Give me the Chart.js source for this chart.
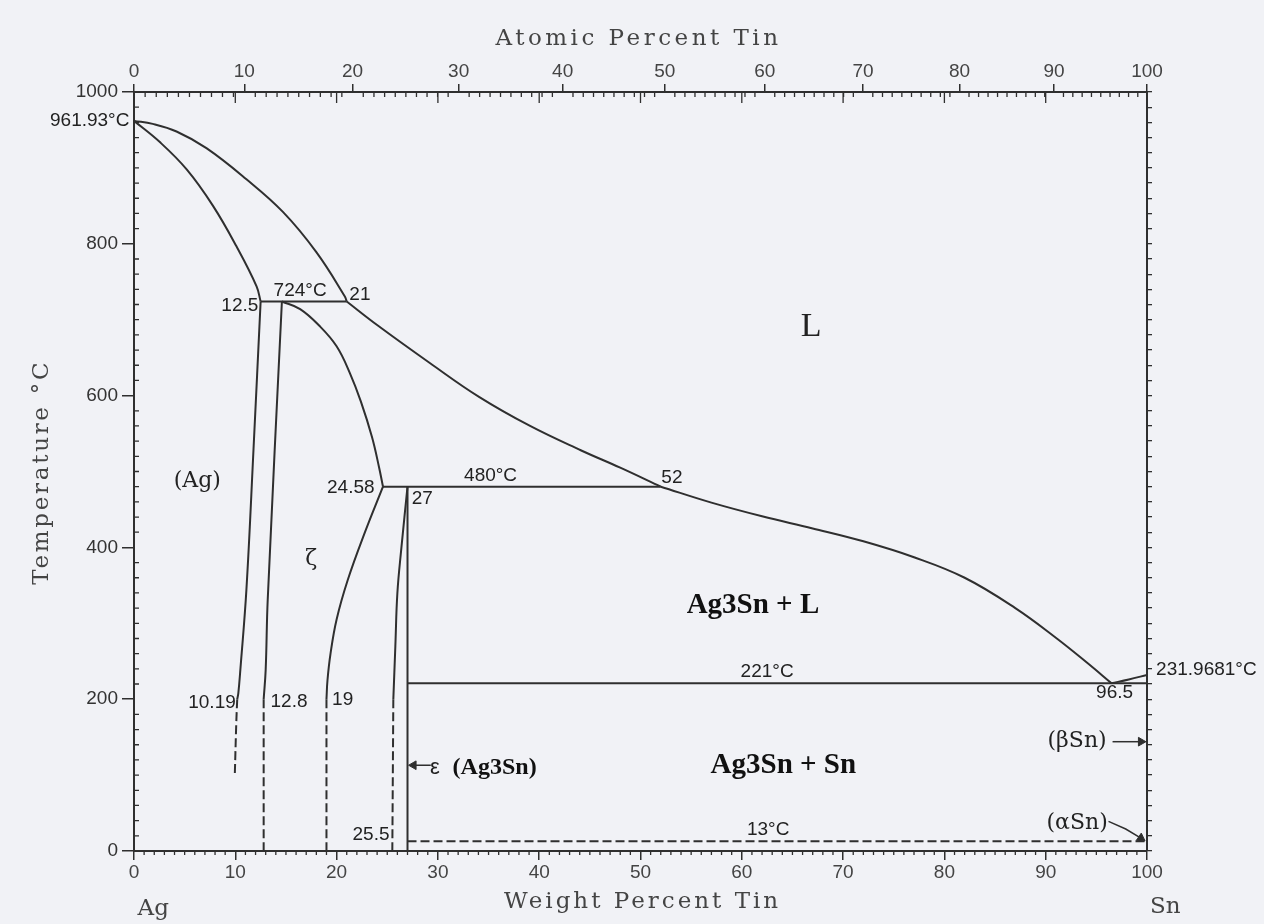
<!DOCTYPE html>
<html>
<head>
    <title>Ag-Sn Phase Diagram</title>
    <script src="https://cdn.jsdelivr.net/npm/chart.js"></script>
    <style>
        html, body {
            margin: 0;
            padding: 0;
            background: #f1f2f6;
        }
        .chart-container {
            width: 1264px;
            height: 924px;
        }
    </style>
</head>
<body>
<div class="chart-container">
    <canvas id="phaseChart"></canvas>
</div>

<script>
    // all points are [weight % Sn, temperature °C]
    const liquidusAg = [[0, 961.93], [1.85, 958], [4.2, 948], [7.15, 926], [11.1, 885], [14.7, 842], [18.0, 789], [20.8, 731], [21, 724]];
    const liquidusMid = [[21, 724], [24.0, 693], [29.2, 643], [34.1, 598], [39.1, 560], [44.1, 528], [48, 505], [52, 480]];
    const liquidusSn = [[52, 480], [57, 459], [62, 441], [67, 425], [72, 408], [77, 387], [82, 360], [87, 320], [91, 281], [94, 249], [96.5, 221]];
    const liquidusBetaSn = [[96.5, 221], [98.2, 226], [100, 231.9681]];

    const solidusAg = [[0, 961.93], [2.55, 934], [5.2, 898], [7.8, 850], [10.1, 797], [12.1, 744], [12.5, 724]];
    const solvusAg = [[12.5, 724], [11.8, 530], [11.1, 345], [10.5, 239], [10.3, 208], [10.19, 200]];
    const solvusAgDash = [[10.19, 200], [10.1, 170], [9.95, 100]];

    const zetaLeft = [[14.6, 724], [13.2, 331], [13.0, 239], [12.8, 200]];
    const zetaLeftDash = [[12.8, 200], [12.8, 0]];
    const zetaTop = [[14.6, 724], [16.4, 714], [18.3, 692], [20.0, 665], [21.3, 630], [22.4, 592], [23.5, 545], [24.2, 505], [24.58, 480]];
    const zetaRight = [[24.58, 480], [22.8, 420], [21.1, 357], [20.0, 305], [19.4, 260], [19.1, 225], [19, 200]];
    const zetaRightDash = [[19, 200], [19, 0]];

    const epsLeft = [[27, 480], [26.4, 400], [26.0, 340], [25.8, 270], [25.6, 200]];
    const epsLeftDash = [[25.6, 200], [25.5, 0]];
    const epsRight = [[27, 480], [27, 0]];

    const iso724 = [[12.5, 724], [21, 724]];
    const iso480 = [[24.58, 480], [52, 480]];
    const iso221 = [[27, 221], [100, 221]];
    const iso13 = [[27, 13], [100, 13]];

    const arrowEps = [[29.3, 113], [27.6, 113]];
    const arrowBeta = [[96.6, 144], [99.4, 144]];
    const arrowAlpha = [[96.2, 39], [97.9, 29], [99.4, 17]];

    const wtTicks = [0, 10, 20, 30, 40, 50, 60, 70, 80, 90, 100];
    const atTicks = [0, 10, 20, 30, 40, 50, 60, 70, 80, 90, 100];
    const tempTicks = [0, 200, 400, 600, 800, 1000];

    const M_AG = 107.8682, M_SN = 118.71;
    function atToWt(a) {
        return 100 * a * M_SN / (a * M_SN + (100 - a) * M_AG);
    }

    const ink = '#2f2f2f';
    const datasets = [];

    function addLine(data, opts) {
        datasets.push(Object.assign({
            data: data.map(p => ({x: p[0], y: p[1]})),
            showLine: true,
            borderColor: ink,
            borderWidth: 2,
            pointRadius: 0,
            pointHoverRadius: 0,
            tension: 0,
            fill: false
        }, opts || {}));
    }

    function addArrow(data, rotation) {
        addLine(data, {
            borderWidth: 1.5,
            clip: false,
            pointStyle: 'triangle',
            pointRadius: c => c.dataIndex === data.length - 1 ? 5 : 0,
            pointRotation: rotation,
            pointBackgroundColor: ink,
            pointBorderColor: ink,
            pointBorderWidth: 1
        });
    }

    const curve = {tension: 0.4};
    const dashed = {borderDash: [9, 4]};

    addLine(liquidusAg, curve);
    addLine(liquidusMid, curve);
    addLine(liquidusSn, curve);
    addLine(liquidusBetaSn, curve);
    addLine(solidusAg, curve);
    addLine(solvusAg, curve);
    addLine(solvusAgDash, Object.assign({}, curve, dashed));
    addLine(zetaLeft, curve);
    addLine(zetaLeftDash, dashed);
    addLine(zetaTop, curve);
    addLine(zetaRight, curve);
    addLine(zetaRightDash, dashed);
    addLine(epsLeft, curve);
    addLine(epsLeftDash, dashed);
    addLine(epsRight);
    addLine(iso724);
    addLine(iso480);
    addLine(iso221);
    addLine(iso13, dashed);
    addArrow(arrowEps, -90);
    addArrow(arrowBeta, 90);
    addArrow(arrowAlpha, 124);

    // text on the diagram, placed in data units
    const numFont = '19px "Liberation Sans"';
    const serifFont = '22px "DejaVu Serif"';
    const boldFont = 'bold 29px "Liberation Serif"';
    const titleFont = '23px "DejaVu Serif"';
    const notes = [
        {text: '961.93°C', x: -0.45, y: 961.93, align: 'right'},
        {text: '724°C', x: 16.4, y: 738},
        {text: '12.5', x: 10.45, y: 718},
        {text: '21', x: 22.3, y: 733},
        {text: '(Ag)', x: 6.25, y: 487, font: serifFont},
        {text: '24.58', x: 21.4, y: 478},
        {text: '27', x: 28.45, y: 464},
        {text: '480°C', x: 35.2, y: 494},
        {text: '52', x: 53.1, y: 492},
        {text: 'L', x: 66.85, y: 690, font: '34px "Liberation Serif"'},
        {text: 'ζ', x: 17.5, y: 384, font: serifFont},
        {text: 'Ag3Sn + L', x: 61.1, y: 324, font: boldFont, color: '#111'},
        {text: '221°C', x: 62.5, y: 236.5},
        {text: 'Ag3Sn + Sn', x: 64.1, y: 113, font: boldFont, color: '#111'},
        {text: 'ε', x: 29.7, y: 110, font: '22px "Liberation Sans"'},
        {text: '(Ag3Sn)', x: 35.6, y: 110, font: 'bold 24px "Liberation Serif"', color: '#111'},
        {text: '13°C', x: 62.6, y: 28},
        {text: '25.5', x: 23.4, y: 21},
        {text: '10.19', x: 7.7, y: 195},
        {text: '12.8', x: 15.3, y: 197},
        {text: '19', x: 20.6, y: 199},
        {text: '231.9681°C', x: 100.9, y: 239, align: 'left'},
        {text: '96.5', x: 96.8, y: 208},
        {text: '(βSn)', x: 93.1, y: 144, font: serifFont},
        {text: '(αSn)', x: 93.1, y: 36, font: serifFont},
        {text: 'Ag', x: 0.35, y: -76, align: 'left', font: titleFont, color: '#444'},
        {text: 'Sn', x: 100.3, y: -74, align: 'left', font: titleFont, color: '#444'},
        {text: 'Weight Percent Tin', x: 50.2, y: -67, font: titleFont, color: '#444', spacing: '3px'},
        {text: 'Atomic Percent Tin', x: 49.8, y: 1070, font: titleFont, color: '#444', spacing: '3.5px'},
        {text: 'Temperature °C', x: -9.1, y: 499, font: titleFont, color: '#444', spacing: '2.7px', rotate: true}
    ];

    const extrasPlugin = {
        id: 'extras',
        afterDraw(chart) {
            const ctx = chart.ctx;
            const xs = chart.scales.x, ys = chart.scales.y;
            const {left, top, bottom} = chart.chartArea;

            // minor ticks
            ctx.save();
            ctx.strokeStyle = ink;
            ctx.lineWidth = 1.3;
            ctx.beginPath();
            for (let w = 1; w < 100; w++) {
                const px = xs.getPixelForValue(w);
                ctx.moveTo(px, bottom);
                ctx.lineTo(px, bottom + (w % 10 === 0 ? 0 : 4));
            }
            for (let a = 1; a < 100; a++) {
                if (a % 10 === 0) continue;
                const px = xs.getPixelForValue(atToWt(a));
                ctx.moveTo(px, top);
                ctx.lineTo(px, top + 5);
            }
            for (let w = 10; w < 100; w += 10) {
                const px = xs.getPixelForValue(w);
                ctx.moveTo(px, top);
                ctx.lineTo(px, top + 11);
            }
            for (let t = 20; t < 1000; t += 20) {
                if (t % 200 === 0) continue;
                const py = ys.getPixelForValue(t);
                ctx.moveTo(left, py);
                ctx.lineTo(left + 5, py);
            }
            ctx.stroke();
            ctx.restore();

            // labels
            notes.forEach(n => {
                const px = xs.getPixelForValue(n.x);
                const py = ys.getPixelForValue(n.y);
                ctx.save();
                ctx.font = n.font || numFont;
                ctx.fillStyle = n.color || '#222';
                ctx.textAlign = n.align || 'center';
                ctx.textBaseline = 'middle';
                if (n.spacing) ctx.letterSpacing = n.spacing;
                ctx.translate(px, py);
                if (n.rotate) ctx.rotate(-Math.PI / 2);
                ctx.fillText(n.text, 0, 0);
                ctx.restore();
            });
        }
    };

    const tickFont = {family: 'Liberation Sans', size: 19};

    new Chart(document.getElementById('phaseChart'), {
        type: 'scatter',
        data: {datasets: datasets},
        options: {
            responsive: true,
            maintainAspectRatio: false,
            animation: false,
            layout: {padding: 0},
            plugins: {
                legend: {display: false},
                tooltip: {enabled: false}
            },
            scales: {
                x: {
                    type: 'linear',
                    position: 'bottom',
                    min: 0,
                    max: 100,
                    afterBuildTicks: s => { s.ticks = wtTicks.map(v => ({value: v})); },
                    afterFit: s => { s.height = 73; },
                    ticks: {
                        font: tickFont, color: '#444', padding: 1, maxRotation: 0, autoSkip: false,
                        callback: (v, i) => String(wtTicks[i])
                    },
                    grid: {drawOnChartArea: false, tickLength: 9, color: ink, lineWidth: 1.5},
                    border: {color: ink, width: 2}
                },
                xTop: {
                    type: 'linear',
                    position: 'top',
                    min: 0,
                    max: 100,
                    afterBuildTicks: s => { s.ticks = atTicks.map(a => ({value: atToWt(a)})); },
                    afterFit: s => { s.height = 92; },
                    ticks: {
                        font: tickFont, color: '#444', padding: 1, maxRotation: 0, autoSkip: false,
                        callback: (v, i) => String(atTicks[i])
                    },
                    grid: {drawOnChartArea: false, tickLength: 8, color: ink, lineWidth: 1.5},
                    border: {color: ink, width: 2}
                },
                y: {
                    type: 'linear',
                    position: 'left',
                    min: 0,
                    max: 1000,
                    afterBuildTicks: s => { s.ticks = tempTicks.map(v => ({value: v})); },
                    afterFit: s => { s.width = 134; },
                    ticks: {
                        font: tickFont, color: '#333', padding: 4,
                        callback: (v, i) => String(tempTicks[i])
                    },
                    grid: {drawOnChartArea: false, tickLength: 12, color: ink, lineWidth: 1.5},
                    border: {color: ink, width: 2}
                },
                yRight: {
                    type: 'linear',
                    position: 'right',
                    min: 0,
                    max: 1000,
                    ticks: {display: false, stepSize: 20},
                    afterFit: s => { s.width = 117; },
                    grid: {drawOnChartArea: false, tickLength: 5, color: ink, lineWidth: 1.3},
                    border: {color: ink, width: 2}
                }
            }
        },
        plugins: [extrasPlugin]
    });
</script>
</body>
</html>
